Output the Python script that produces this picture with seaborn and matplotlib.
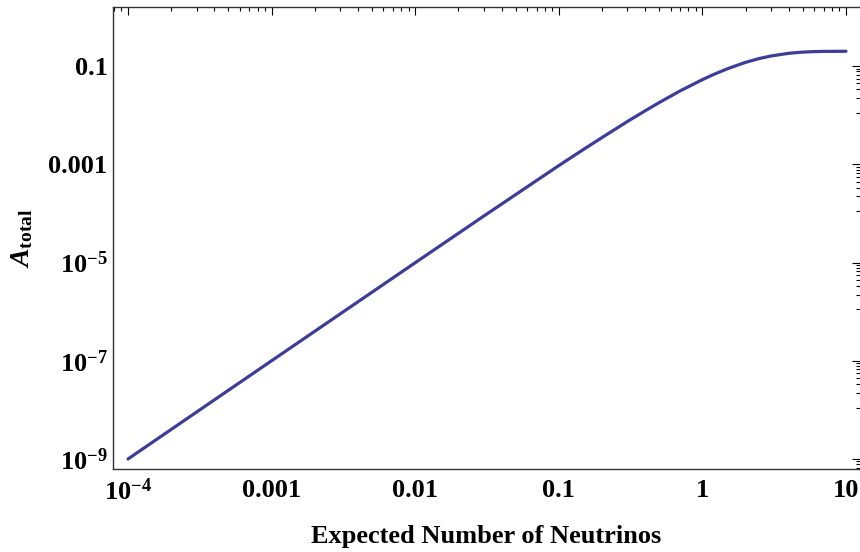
import numpy as np
import pandas as pd
import matplotlib
matplotlib.use("Agg")
import matplotlib.pyplot as plt
import matplotlib.ticker as mticker
import seaborn as sns

# Data
expected_neutrinos = [1e-4, 1e-3, 1e-2, 0.03, 0.1, 0.15, 0.2, 0.3, 0.4, 0.5, 0.7,
                      1.0, 1.2, 1.5, 2.0, 2.5, 3.0, 4.0, 5.0, 6.0, 7.0, 10.0]
a_total = [1.0e-9, 1.0e-7, 9.9e-6, 8.8e-5, 9.4e-4, 2.04e-3, 3.5e-3, 7.4e-3, 1.23e-2, 1.80e-2, 3.12e-2,
           5.28e-2, 6.75e-2, 8.84e-2, 0.119, 0.1425, 0.160, 0.1817, 0.192, 0.1965, 0.1985, 0.1998]

x_tick_vals = [1e-4, 1e-3, 1e-2, 1e-1, 1, 10]
x_tick_labels = [r"$10^{-4}$", "0.001", "0.01", "0.1", "1", "10"]
y_tick_vals = [1e-9, 1e-7, 1e-5, 1e-3, 1e-1]
y_tick_labels = [r"$10^{-9}$", r"$10^{-7}$", r"$10^{-5}$", "0.001", "0.1"]

sns.set_style("white")
plt.rcParams["font.family"] = ["Liberation Serif", "DejaVu Serif"]
plt.rcParams["font.weight"] = "bold"
plt.rcParams["mathtext.fontset"] = "custom"
plt.rcParams["mathtext.rm"] = "Liberation Serif:bold"
plt.rcParams["mathtext.it"] = "Liberation Serif:bold:italic"
plt.rcParams["mathtext.bf"] = "Liberation Serif:bold"
plt.rcParams["axes.unicode_minus"] = True
plt.rcParams["text.color"] = "black"
plt.rcParams["axes.labelcolor"] = "black"

df = pd.DataFrame({"x": expected_neutrinos, "y": a_total})

fig = plt.figure(figsize=(8.6, 5.52), dpi=100)
ax = fig.add_axes([113 / 860, (552 - 469) / 552, (860 - 113) / 860, (469 - 7) / 552])

sns.lineplot(data=df, x="x", y="y", ax=ax, color="#3c3d99", linewidth=2.3)
ax.set_xscale("log")
ax.set_yscale("log")
ax.set_xlim(10 ** -4.1045, 10 ** 1.0975)
ax.set_ylim(10 ** -9.204, 10 ** 0.2016)

ax.xaxis.set_major_locator(mticker.FixedLocator(x_tick_vals))
ax.xaxis.set_major_formatter(mticker.FixedFormatter(x_tick_labels))
ax.yaxis.set_major_locator(mticker.FixedLocator(y_tick_vals))
ax.yaxis.set_major_formatter(mticker.FixedFormatter(y_tick_labels))

xminor = [m * 10.0 ** e for e in range(-5, 2) for m in range(2, 10)]
yminor = [t * j / 9.0 for t in y_tick_vals for j in range(1, 9)]
ax.xaxis.set_minor_locator(mticker.FixedLocator(xminor))
ax.yaxis.set_minor_locator(mticker.FixedLocator(yminor))
ax.xaxis.set_minor_formatter(mticker.NullFormatter())
ax.yaxis.set_minor_formatter(mticker.NullFormatter())

ax.tick_params(which="both", direction="in", top=True, right=True, colors="black",
               width=0.8)
ax.tick_params(which="major", length=6, labelsize=19)
ax.tick_params(axis="y", which="major", pad=4)
ax.tick_params(axis="x", which="major", pad=7)
ax.tick_params(which="minor", length=3)

for s in ["left", "bottom", "top"]:
    ax.spines[s].set_visible(True)
    ax.spines[s].set_color("#333333")
    ax.spines[s].set_linewidth(1.0)
ax.spines["right"].set_visible(False)

ax.set_xlabel("Expected Number of Neutrinos", fontsize=19, fontweight="bold", labelpad=14)
ax.set_ylabel(r"$A_{\rm total}$", fontsize=20)
ax.yaxis.set_label_coords(-0.104, 0.5)

fig.savefig("out.png", dpi=100, facecolor="white")
